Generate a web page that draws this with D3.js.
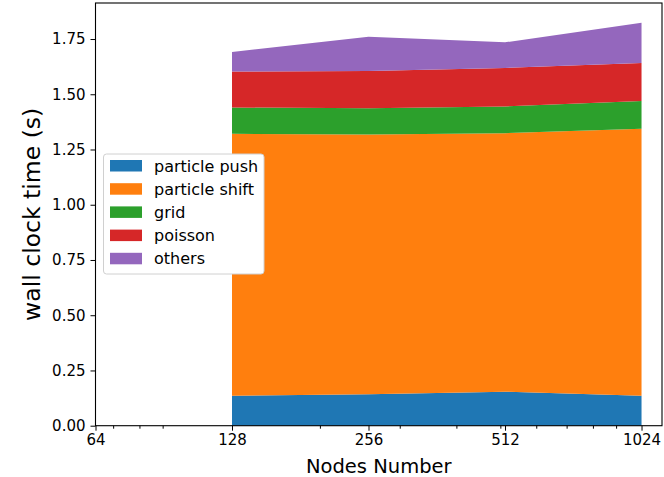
<!DOCTYPE html>
<html>
<head>
<meta charset="utf-8">
<script src="https://cdn.jsdelivr.net/npm/d3@7"></script>
<style>
  body { margin: 0; background: #fff; }
  svg, svg text { font-family: "DejaVu Sans", sans-serif; }
</style>
</head>
<body>
<svg id="chart" width="664" height="477"></svg>
<script>
// node counts and per-phase wall clock time (s)
var nodes = [128, 256, 512, 1024]
var particlePush = [0.136, 0.142, 0.154, 0.136]
var particleShift = [1.185, 1.176, 1.170, 1.208]
var grid = [0.119, 0.119, 0.121, 0.125]
var poisson = [0.163, 0.168, 0.174, 0.172]
var others = [0.088, 0.155, 0.116, 0.183]

var seriesNames = ["particle push", "particle shift", "grid", "poisson", "others"]
var colors = ["#1f77b4", "#ff7f0e", "#2ca02c", "#d62728", "#9467bd"]

var xTicks = [64, 128, 256, 512, 1024]
var xMinorTicks = [70, 80, 90, 200, 300, 400, 500, 600, 700, 800, 900]
var yTicks = [0, 0.25, 0.5, 0.75, 1.0, 1.25, 1.5, 1.75]

var plotLeft = 95.5, plotRight = 662, plotTop = 3, plotBottom = 425.7

var rows = nodes.map(function(n, i) {
	return {
		nodes: n,
		"particle push": particlePush[i],
		"particle shift": particleShift[i],
		"grid": grid[i],
		"poisson": poisson[i],
		"others": others[i]
	}
})

var x = d3.scaleLog().base(2)
	.domain([64, 1024 * Math.pow(2, 0.15)])
	.range([plotLeft, plotRight])

var y = d3.scaleLinear()
	.domain([0, 1.913])
	.range([plotBottom, plotTop])

var svg = d3.select("#chart")

var stacked = d3.stack().keys(seriesNames)(rows)

var area = d3.area()
	.x(function(d) { return x(d.data.nodes); })
	.y0(function(d) { return y(d[0]); })
	.y1(function(d) { return y(d[1]); })

svg.append("g")
	.selectAll("path")
	.data(stacked)
	.enter().append("path")
	.attr("fill", function(d, i) { return colors[i]; })
	.attr("d", area)

// x axis
var xAxis = svg.append("g")
	.attr("transform", "translate(0," + plotBottom + ")")
	.call(d3.axisBottom(x).tickValues(xTicks).tickFormat(d3.format("d")).tickSize(5).tickPadding(4))
xAxis.select(".domain").remove()

var xMinor = svg.append("g")
	.attr("transform", "translate(0," + plotBottom + ")")
	.call(d3.axisBottom(x).tickValues(xMinorTicks).tickFormat("").tickSize(3))
xMinor.select(".domain").remove()

// y axis
var yAxis = svg.append("g")
	.attr("transform", "translate(" + plotLeft + ",0)")
	.call(d3.axisLeft(y).tickValues(yTicks).tickFormat(d3.format(".2f")).tickSize(5).tickPadding(5))
yAxis.select(".domain").remove()

svg.selectAll(".tick text")
	.style("font-size", "15px")
	.style("font-family", "DejaVu Sans")
	.attr("fill", "#000")
svg.selectAll(".tick line").attr("stroke", "#000").attr("stroke-width", 1)

// frame
svg.append("rect")
	.attr("x", plotLeft)
	.attr("y", plotTop)
	.attr("width", plotRight - plotLeft)
	.attr("height", plotBottom - plotTop)
	.attr("fill", "none")
	.attr("stroke", "#000")
	.attr("stroke-width", 1.1)

// axis labels
svg.append("text")
	.attr("x", (plotLeft + plotRight) / 2)
	.attr("y", 473)
	.attr("text-anchor", "middle")
	.style("font-size", "19.5px")
	.text("Nodes Number")

svg.append("text")
	.attr("transform", "translate(40," + (plotTop + plotBottom) / 2 + ") rotate(-90)")
	.attr("text-anchor", "middle")
	.style("font-size", "23.5px")
	.text("wall clock time (s)")

// legend
var legend = svg.append("g")

legend.append("rect")
	.attr("x", 103.5)
	.attr("y", 154)
	.attr("width", 160.5)
	.attr("height", 120)
	.attr("rx", 3)
	.attr("fill", "#fff")
	.attr("stroke", "#d0d0d0")

var item = legend.selectAll(".item")
	.data(seriesNames)
	.enter().append("g")
	.attr("class", "item")
	.attr("transform", function(d, i) { return "translate(110," + (166 + i * 23.2) + ")"; })

item.append("rect")
	.attr("x", 0)
	.attr("y", -6)
	.attr("width", 32)
	.attr("height", 11.5)
	.attr("fill", function(d, i) { return colors[i]; })

item.append("text")
	.attr("x", 44)
	.attr("y", 5.5)
	.style("font-size", "16px")
	.text(function(d) { return d; })
</script>
</body>
</html>
